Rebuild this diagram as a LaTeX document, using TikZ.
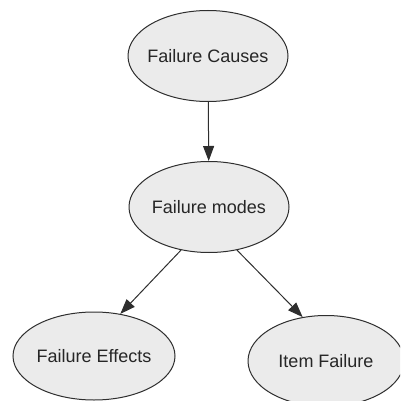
\documentclass[tikz,border=0pt]{standalone}
\usepackage{fontspec}
\setsansfont{Liberation Sans}
\usetikzlibrary{positioning,shapes.geometric,arrows.meta}
\definecolor{nodefill}{HTML}{EBEBEB}
\definecolor{edgegray}{HTML}{2E2E2E}
\begin{document}
\begin{tikzpicture}[x=1pt,y=-1pt,
  bubble/.style={ellipse,draw=edgegray,line width=1pt,fill=nodefill,
    inner xsep=-25pt,inner ysep=0pt,minimum width=160pt,minimum height=91pt,
    font=\sffamily\fontsize{18}{20}\selectfont,text=black!85},
  link/.style={draw=edgegray,line width=1pt,-{Triangle[length=15pt,width=11pt]}}]
\useasboundingbox (0,0) rectangle (400,401);
\clip (0,0) rectangle (400,401);
\node[bubble] (causes) at (208,56) {Failure Causes};
\node[bubble] (modes) at (209,207) {Failure modes};
\node[bubble,minimum width=162pt,minimum height=88pt] (effects) at (94,356) {Failure Effects};
\node[bubble,minimum width=156pt] (item) at (326,361) {Item Failure};
\draw[link] (causes) -- (modes);
\draw[link] (modes.-123) -- (effects.58);
\draw[link] (modes.-57) -- (item.118);
\end{tikzpicture}
\end{document}
